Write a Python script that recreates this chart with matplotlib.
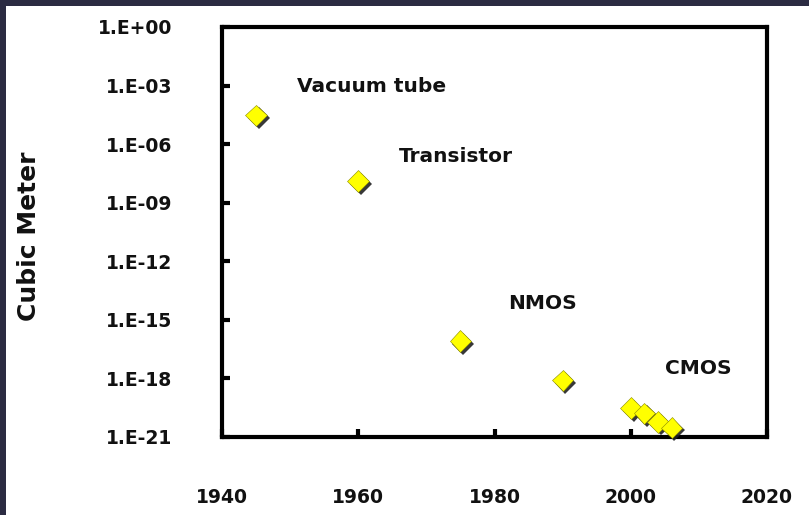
import matplotlib
matplotlib.use("Agg")
import matplotlib.pyplot as plt
import matplotlib.patheffects as pe
from matplotlib.patches import Rectangle
from matplotlib.ticker import FixedLocator, NullLocator

# device volume (cubic meter) by year
years = [1945, 1960, 1975, 1990, 2000, 2002, 2004, 2006]
volume = [3e-5, 1.3e-8, 8e-17, 8e-19, 3e-20, 1.6e-20, 6e-21, 3e-21]

labels = ["Vacuum tube", "Transistor", "NMOS", "CMOS"]
label_x = [1951, 1966, 1982, 2005]
label_y = [4.7e-4, 1.2e-7, 3.5e-15, 1.7e-18]

yticks = [1e0, 1e-3, 1e-6, 1e-9, 1e-12, 1e-15, 1e-18, 1e-21]
ytick_labels = ["1.E+00", "1.E-03", "1.E-06", "1.E-09", "1.E-12", "1.E-15", "1.E-18", "1.E-21"]
xticks = [1940, 1960, 1980, 2000, 2020]

W, H = 809, 515
fig = plt.figure(figsize=(W / 100, H / 100), dpi=100)
fig.patch.set_facecolor("#2b2b42")
fig.add_artist(Rectangle((6 / W, 0), 1, 1 - 6 / H, transform=fig.transFigure,
                         facecolor="white", edgecolor="none", zorder=0))

ax = fig.add_axes([222 / W, 1 - 437 / H, 545 / W, 410 / H])
ax.set_yscale("log")
ax.set_xlim(1940, 2020)
ax.set_ylim(1e-21, 1e0)

ax.plot(years, volume, ls="none", marker="D", ms=11, mfc="#ffff00",
        mec="#8a8a00", mew=0.4, clip_on=False, zorder=3,
        path_effects=[pe.SimplePatchShadow(offset=(2, -2), shadow_rgbFace="#222222", alpha=0.9),
                      pe.Normal()])

for t, x, y in zip(labels, label_x, label_y):
    ax.text(x, y, t, fontsize=14.5, fontweight="bold", color="#111111",
            ha="left", va="baseline")

for s in ax.spines.values():
    s.set_linewidth(3)
ax.yaxis.set_major_locator(FixedLocator(yticks))
ax.yaxis.set_minor_locator(NullLocator())
ax.set_yticks(yticks)
ax.set_yticklabels(ytick_labels)
ax.set_xticks(xticks)
ax.set_xticklabels([str(x) for x in xticks])
ax.tick_params(axis="both", direction="in", length=6, width=3, labelsize=13.5, colors="black")
ax.tick_params(axis="y", pad=36)
ax.tick_params(axis="x", pad=37)
for lab in ax.get_xticklabels() + ax.get_yticklabels():
    lab.set_fontweight("bold")
    lab.set_color("#111111")

fig.text(29 / W, 1 - 236 / H, "Cubic Meter", rotation=90, fontsize=18, fontweight="bold",
         ha="center", va="center", color="#111111")

fig.savefig("out.png", dpi=100, facecolor=fig.get_facecolor())
